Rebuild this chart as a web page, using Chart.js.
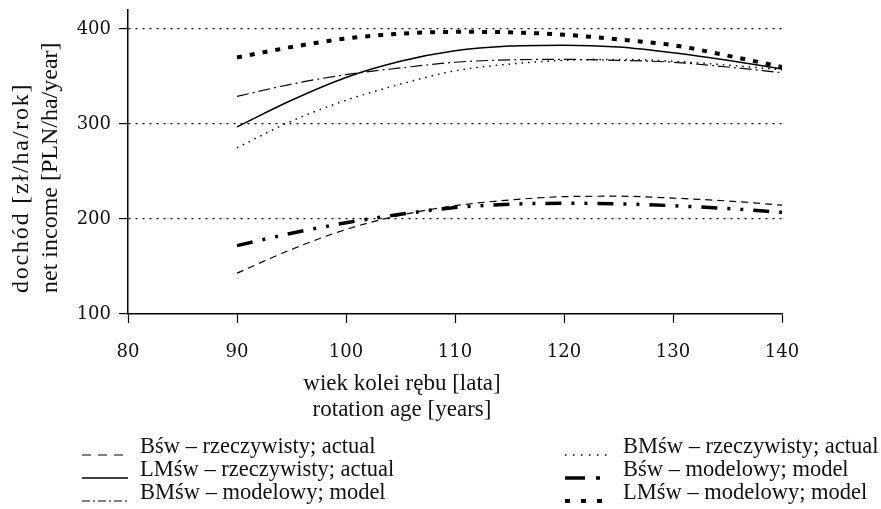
<!DOCTYPE html>
<html>
<head>
<meta charset="utf-8">
<script src="https://cdn.jsdelivr.net/npm/chart.js@4.4.1/dist/chart.umd.min.js"></script>
<style>
  body { margin: 0; background: #fff; }
  #wrap { position: relative; width: 881px; height: 509px; font-family: "Liberation Serif", serif; color: #111; }
  #chart { position: absolute; left: 0; top: 0; }
  .txt { position: absolute; font-size: 22.5px; line-height: 22px; white-space: nowrap; }
  .ytitle { position: absolute; font-size: 24px; line-height: 29px; white-space: nowrap; transform-origin: 0 0; transform: rotate(-90deg); }
  .row svg { position: absolute; top: 0; }
</style>
</head>
<body>
<div id="wrap">
  <canvas id="chart" width="881" height="509"></canvas>
  <div class="ytitle" style="left:6px; top:293px; letter-spacing:1.8px;">dochód [zł/ha/rok]</div>
  <div class="ytitle" style="left:35px; top:293px;">net income [PLN/ha/year]</div>
  <div class="txt" style="left:202px; width:400px; top:370px; font-size:23px; line-height:26px; text-align:center;">wiek kolei rębu [lata]<br>rotation age [years]</div>
  <div id="legend"></div>
</div>
<script>
// rotation age, years
let ages = [90, 95, 100, 105, 110, 115, 120, 125, 130, 135, 140];

// net income, PLN/ha/year
let bswActual   = [143, 168, 189, 204, 214, 220, 223.5, 224, 222, 219, 214.5];
let lmswActual  = [297, 325, 349, 366, 377, 382, 383, 381, 375, 367, 358];
let bmswModel   = [329, 342, 352, 359, 365, 367.5, 368, 367, 365, 360, 354];
let bmswActual  = [275, 303, 325, 342, 356, 363, 367, 368, 366, 362, 357];
let bswModel    = [172, 185, 196, 205, 212, 215.5, 216.5, 216, 214, 211, 207];
let lmswModel   = [370, 381, 390, 395, 397, 396.5, 394, 389, 383, 372, 360];

let labels = [
  'Bśw – rzeczywisty; actual',
  'LMśw – rzeczywisty; actual',
  'BMśw – modelowy; model',
  'BMśw – rzeczywisty; actual',
  'Bśw – modelowy; model',
  'LMśw – modelowy; model'
];

let xTicks = [80, 90, 100, 110, 120, 130, 140];
let yTicks = [100, 200, 300, 400];

function pts(values) {
  return values.map(function(v, i) { return {x: ages[i], y: v}; });
}

// line styles: width, dash in chart, dash in legend
let styles = [
  {w: 1.2, dash: [7, 5],               leg: [9, 7]},
  {w: 1.5, dash: [],                   leg: []},
  {w: 1.2, dash: [12, 4, 2, 4],        leg: [8, 3, 2, 3]},
  {w: 1.5, dash: [1.5, 5],             leg: [1.5, 6.5]},
  {w: 3.5, dash: [16, 10, 3, 10, 3, 10], leg: [20, 11, 4, 30]},
  {w: 4,   dash: [5, 8],               leg: [5, 11]}
];

let series = [bswActual, lmswActual, bmswModel, bmswActual, bswModel, lmswModel];

let datasets = series.map(function(s, i) {
  return {
    label: labels[i],
    data: pts(s),
    borderColor: '#000',
    borderWidth: styles[i].w,
    borderDash: styles[i].dash,
    borderCapStyle: 'butt',
    pointRadius: 0,
    fill: false,
    tension: 0.4,
    cubicInterpolationMode: 'monotone'
  };
});

let tickFont = {family: 'DejaVu Serif', size: 18};

new Chart(document.getElementById('chart'), {
  type: 'line',
  data: {datasets: datasets},
  options: {
    responsive: false,
    animation: false,
    layout: {padding: {left: 0, right: 99, top: 10, bottom: 0}},
    plugins: {legend: {display: false}, tooltip: {enabled: false}},
    scales: {
      x: {
        type: 'linear',
        min: 80, max: 140,
        afterFit: function(scale) { scale.height = 195; },
        afterBuildTicks: function(scale) { scale.ticks = xTicks.map(function(v) { return {value: v}; }); },
        ticks: {font: tickFont, color: '#111', padding: 19, maxRotation: 0},
        grid: {drawOnChartArea: false, tickLength: 9, tickColor: '#000', tickWidth: 1.2},
        border: {color: '#000', width: 1.5}
      },
      y: {
        min: 100, max: 420,
        afterFit: function(scale) { scale.width = 128; scale.paddingTop = 0; },
        afterBuildTicks: function(scale) { scale.ticks = yTicks.map(function(v) { return {value: v}; }); },
        ticks: {font: tickFont, color: '#111', padding: 8},
        grid: {
          color: function(c) { return c.tick && c.tick.value === 100 ? 'rgba(0,0,0,0)' : '#000'; },
          lineWidth: 1.2,
          tickLength: 9, tickColor: '#000', tickWidth: 1.2
        },
        border: {color: '#000', width: 1.5, dash: [2, 5]}
      }
    }
  }
});

// legend, two columns of three rows
let legendPos = [
  {x: 82, y: 435}, {x: 82, y: 458}, {x: 82, y: 481},
  {x: 565, y: 435}, {x: 565, y: 458}, {x: 565, y: 481}
];
let html = '';
labels.forEach(function(lab, i) {
  let p = legendPos[i];
  let st = styles[i];
  let dash = st.leg.length ? ' stroke-dasharray="' + st.leg.join(' ') + '"' : '';
  html += '<div class="txt row" style="left:' + p.x + 'px; top:' + p.y + 'px;">' +
    '<svg width="48" height="26" style="left:0"><line x1="0" y1="20" x2="46" y2="20" stroke="#000" stroke-width="' + st.w + '"' + dash + '/></svg>' +
    '<span style="margin-left:58px">' + lab + '</span></div>';
});
document.getElementById('legend').innerHTML = html;
</script>
</body>
</html>
